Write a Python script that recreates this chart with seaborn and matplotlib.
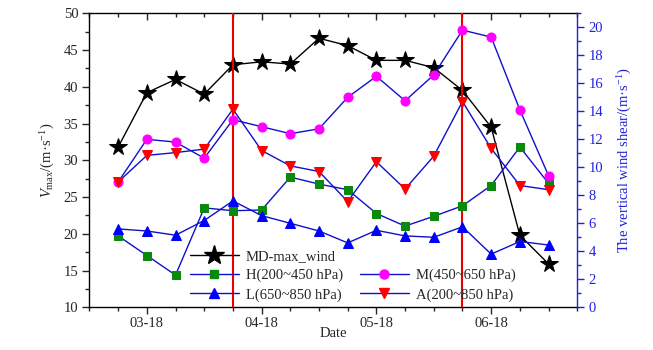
import numpy as np
import pandas as pd
import matplotlib
matplotlib.use("Agg")
import matplotlib.pyplot as plt
from matplotlib.ticker import MultipleLocator, FixedLocator
from matplotlib.lines import Line2D
import seaborn as sns

# ---- data ----
idx = list(range(16))
md_max_wind = [31.8, 39.2, 41.0, 39.0, 43.0, 43.4, 43.1, 46.6, 45.6, 43.6, 43.6, 42.6, 39.5, 34.5, 19.8, 15.9]
shear_H = [5.1, 3.7, 2.3, 7.1, 6.9, 6.95, 9.3, 8.8, 8.4, 6.7, 5.8, 6.5, 7.25, 8.7, 11.45, 8.85]
shear_L = [5.6, 5.45, 5.15, 6.2, 7.6, 6.55, 6.0, 5.45, 4.6, 5.5, 5.1, 5.0, 5.75, 3.8, 4.7, 4.45]
shear_M = [8.95, 12.0, 11.8, 10.65, 13.4, 12.9, 12.4, 12.75, 15.0, 16.5, 14.75, 16.6, 19.8, 19.3, 14.1, 9.4]
shear_A = [8.95, 10.85, 11.05, 11.3, 14.15, 11.2, 10.1, 9.7, 7.55, 10.4, 8.45, 10.8, 14.7, 11.35, 8.7, 8.4]
tick_pos = [1, 5, 9, 13]
tick_labels = ["03-18", "04-18", "05-18", "06-18"]
red_lines = [4, 12]

sns.set_style("ticks")
plt.rcParams["font.family"] = ["Liberation Serif", "DejaVu Serif"]
plt.rcParams["mathtext.fontset"] = "custom"
plt.rcParams["mathtext.rm"] = "Liberation Serif"
plt.rcParams["mathtext.it"] = "Liberation Serif:italic"

fig = plt.figure(figsize=(6.53, 3.5), dpi=100)
ax = fig.add_axes([0.137, 0.122, 0.747, 0.840])
ax2 = ax.twinx()

line_blue = "#1010CC"
df_md = pd.DataFrame({"x": idx, "y": md_max_wind})
sns.lineplot(data=df_md, x="x", y="y", ax=ax, color="black", lw=1.0,
             marker="*", markersize=13, markerfacecolor="black",
             markeredgecolor="black", zorder=5)

series = [
    (shear_H, "s", "#0A8A0A", 5.5),
    (shear_L, "^", "#0000FF", 6.5),
    (shear_M, "o", "#FF00FF", 6.5),
    (shear_A, "v", "#FF0000", 6.5),
]
for vals, mk, mc, ms in series:
    d = pd.DataFrame({"x": idx, "y": vals})
    sns.lineplot(data=d, x="x", y="y", ax=ax2, color=line_blue, lw=1.0,
                 marker=mk, markersize=ms, markerfacecolor=mc,
                 markeredgecolor=mc, zorder=4)

for xv in red_lines:
    ax.axvline(xv, color="#EE0000", lw=1.5, zorder=6)

ax.set_xlim(-1, 16)
ax.set_ylim(10, 50)
ax2.set_ylim(0, 21)

ax.set_xticks(tick_pos)
ax.set_xticklabels(tick_labels)
ax.xaxis.set_minor_locator(FixedLocator([i for i in range(-1, 17) if i not in tick_pos]))
ax.yaxis.set_major_locator(MultipleLocator(5))
ax.yaxis.set_minor_locator(MultipleLocator(2.5))
ax2.yaxis.set_major_locator(MultipleLocator(2))
ax2.yaxis.set_minor_locator(MultipleLocator(1))

fs = 10.5
ax.tick_params(axis="both", which="major", labelsize=fs, length=5, width=1, direction="out", pad=3)
ax.tick_params(axis="x", which="major", pad=2)
ax.tick_params(axis="both", which="minor", length=3, width=1, direction="out")
ax.tick_params(axis="x", which="both", top=True)
ax2.tick_params(axis="y", which="major", labelsize=fs, length=5, width=1, direction="out",
                colors="#2020E0", pad=3)
ax2.tick_params(axis="y", which="minor", length=3, width=1, direction="out", colors="#2020E0")

# top ticks point inward
for t in ax.xaxis.get_major_ticks() + ax.xaxis.get_minor_ticks():
    t.tick2line.set_marker(3)

for sp in ["left", "bottom", "top"]:
    ax.spines[sp].set_linewidth(1.0)
    ax.spines[sp].set_color("black")
ax2.spines["right"].set_color("#2020E0")
ax2.spines["right"].set_linewidth(1.0)
ax2.spines["left"].set_visible(False)
ax.spines["right"].set_visible(False)
ax2.spines["top"].set_visible(False)
ax2.spines["bottom"].set_visible(False)

ax.set_xlabel("Date", fontsize=fs, labelpad=-2)
ax.set_ylabel(r"$V_{\mathrm{max}}$/(m·s$^{-1}$)", fontsize=fs, labelpad=5)
ax2.set_ylabel(r"The vertical wind shear/(m·s$^{-1}$)", fontsize=fs, color="#2020E0", labelpad=9)

handles = [
    Line2D([], [], color="black", lw=1, marker="*", markersize=15, markerfacecolor="black", markeredgecolor="black"),
    Line2D([], [], color=line_blue, lw=1, marker="s", markersize=5.5, markerfacecolor="#0A8A0A", markeredgecolor="#0A8A0A"),
    Line2D([], [], color=line_blue, lw=1, marker="^", markersize=6.5, markerfacecolor="#0000FF", markeredgecolor="#0000FF"),
    Line2D([], [], color="none"),
    Line2D([], [], color=line_blue, lw=1, marker="o", markersize=6.5, markerfacecolor="#FF00FF", markeredgecolor="#FF00FF"),
    Line2D([], [], color=line_blue, lw=1, marker="v", markersize=6.5, markerfacecolor="#FF0000", markeredgecolor="#FF0000"),
]
labels = ["MD-max_wind", "H(200~450 hPa)", "L(650~850 hPa)", "", "M(450~650 hPa)", "A(200~850 hPa)"]
leg = ax2.legend(handles, labels, ncol=2, frameon=False, fontsize=fs,
                 loc="lower left", bbox_to_anchor=(0.18, -0.025),
                 handlelength=3.3, columnspacing=1.2, labelspacing=0.4, handletextpad=0.5)
leg.set_zorder(10)

fig.savefig("out.png", dpi=100)
